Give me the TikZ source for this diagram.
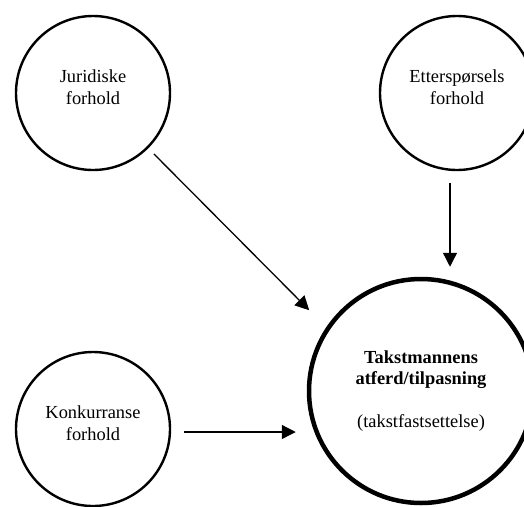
\documentclass[tikz,border=0pt]{standalone}
\usepackage{fontspec}
\setmainfont{Liberation Serif}
\usetikzlibrary{arrows.meta}

\begin{document}
\begin{tikzpicture}[x=1pt,y=-1pt,->,>={Triangle[length=14pt,width=14pt]},line width=1.3pt,
    main node/.style={circle,draw,line width=2.4pt,minimum size=154pt,inner sep=0pt},
    big node/.style={circle,draw,line width=4.5pt,minimum size=224pt,inner sep=0pt,align=center,font=\fontsize{18.4}{21.6}\selectfont},
    txt/.style={align=center,font=\fontsize{18.4}{21.6}\selectfont}]
            \path[use as bounding box,clip] (0,0) rectangle (524,506);

            \node[main node] (1) at (93,93) {};
            \node[txt] (1t) at ([yshift=6pt]1.center) {Juridiske\\forhold};

            \node[main node] (2) at (457,93) {};
            \node[txt] (2t) at ([yshift=6pt]2.center) {Etterspørsels\\forhold};

            \node[main node] (3) at (93,429) {};
            \node[txt] (3t) at ([yshift=6pt]3.center) {Konkurranse\\forhold};

            \node[big node] (4) at (421,391) {\textbf{Takstmannens}\\\textbf{atferd/tilpasning}\\[21.6pt](takstfastsettelse)};

            \path
                (1.south east) edge[shorten <=8pt] ([xshift=-31pt]4.north west)
                ([xshift=-7pt]2.south) edge[shorten <=12pt,shorten >=10pt] ([xshift=-7pt]2.south |- 4.north)
                ([yshift=-3pt]3.east) edge[shorten <=13pt,shorten >=11pt] ([yshift=-3pt]3.east -| 4.west)
                ;
        \end{tikzpicture}
\end{document}
